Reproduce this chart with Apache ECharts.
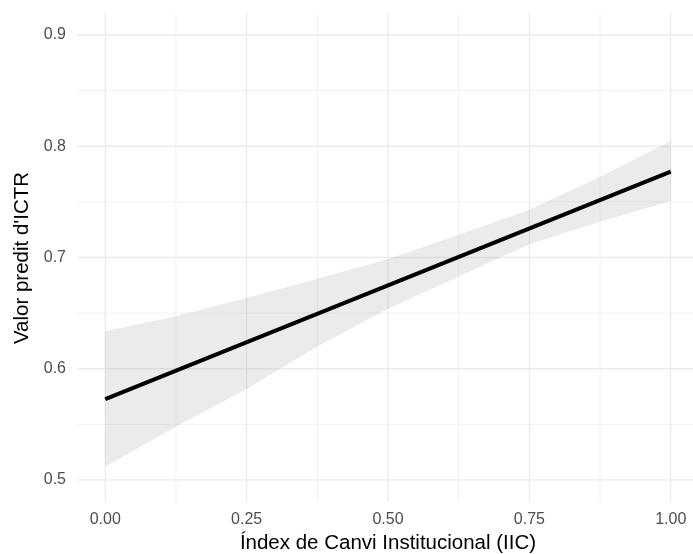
<!DOCTYPE html>
<html>
<head>
<meta charset="utf-8">
<script src="https://cdn.jsdelivr.net/npm/echarts@6/dist/echarts.min.js"></script>
<style>
  html, body { margin: 0; padding: 0; background: #ffffff; }
  #chart { width: 693px; height: 554px; }
</style>
</head>
<body>
<div id="chart"></div>
<script>
// Fitted line (straight) endpoints
var lineX = [0, 1];
var lineY = [0.5727, 0.7772];

// Confidence band read at these x positions
var bandX = [0, 0.125, 0.25, 0.375, 0.5, 0.625, 0.75, 0.875, 1];
var bandUpper = [0.6336, 0.6471, 0.6637, 0.6810, 0.6985, 0.7205, 0.7430, 0.7727, 0.8048];
var bandLower = [0.5120, 0.5480, 0.5817, 0.6200, 0.6540, 0.6830, 0.7120, 0.7322, 0.7507];

// Axis ticks
var xTicks = [0, 0.25, 0.5, 0.75, 1];
var yTicks = [0.5, 0.6, 0.7, 0.8, 0.9];
var xMinor = [0.125, 0.375, 0.625, 0.875];
var yMinor = [0.55, 0.65, 0.75, 0.85];

var xTitle = 'Índex de Canvi Institucional (IIC)';
var yTitle = "Valor predit d'ICTR";

var FONT = '"Liberation Sans", Arial, Helvetica, sans-serif';

var chart = echarts.init(document.getElementById('chart'), null, { renderer: 'canvas' });

var bandData = bandX.map(function (x, i) { return [x, bandLower[i], bandUpper[i]]; });
var lineData = lineX.map(function (x, i) { return [x, lineY[i]]; });

// grid line records: [value, axis(0=x,1=y), major(1)/minor(0)]
var gridData = []
  .concat(xMinor.map(function (v) { return [v, 0, 0]; }))
  .concat(yMinor.map(function (v) { return [v, 1, 0]; }))
  .concat(xTicks.map(function (v) { return [v, 0, 1]; }))
  .concat(yTicks.map(function (v) { return [v, 1, 1]; }));

var option = {
  animation: false,
  backgroundColor: '#ffffff',
  grid: { left: 77, top: 14, width: 622, height: 488, containLabel: false, outerBoundsMode: 'none' },
  xAxis: {
    type: 'value',
    min: -0.05,
    max: 1.05,
    axisLine: { show: false },
    axisTick: { show: false, customValues: xTicks },
    splitLine: { show: false },
    axisLabel: {
      customValues: xTicks,
      formatter: function (v) { return v.toFixed(2); },
      color: '#4d4d4d',
      fontSize: 16,
      fontFamily: FONT,
      margin: 10
    },
    name: xTitle,
    nameLocation: 'middle',
    nameGap: 31,
    nameTextStyle: { color: '#000000', fontSize: 20.5, fontFamily: FONT }
  },
  yAxis: {
    type: 'value',
    min: 0.4802,
    max: 0.9189,
    axisLine: { show: false },
    axisTick: { show: false, customValues: yTicks },
    splitLine: { show: false },
    axisLabel: {
      customValues: yTicks,
      formatter: function (v) { return v.toFixed(1); },
      color: '#4d4d4d',
      fontSize: 16,
      fontFamily: FONT,
      margin: 11
    },
    name: yTitle,
    nameLocation: 'middle',
    nameRotate: 90,
    nameGap: 41,
    nameTextStyle: { color: '#000000', fontSize: 20.5, fontFamily: FONT }
  },
  series: [
    {
      type: 'custom',
      z: 1,
      silent: true,
      clip: false,
      data: gridData,
      encode: { x: -1, y: -1 },
      renderItem: function (params, api) {
        var v = api.value(0), ax = api.value(1), major = api.value(2);
        var cs = params.coordSys;
        var p1, p2;
        if (ax === 0) {
          var px = api.coord([v, 0.7])[0];
          p1 = [px, cs.y]; p2 = [px, cs.y + cs.height];
        } else {
          var py = api.coord([0.5, v])[1];
          p1 = [cs.x, py]; p2 = [cs.x + cs.width, py];
        }
        return {
          type: 'line',
          shape: { x1: p1[0], y1: p1[1], x2: p2[0], y2: p2[1] },
          style: { stroke: major ? '#ebebeb' : '#f1f1f1', lineWidth: major ? 1.3 : 1 }
        };
      }
    },
    {
      type: 'custom',
      z: 2,
      silent: true,
      clip: true,
      data: bandData,
      renderItem: function (params, api) {
        if (params.dataIndex !== 0) return null;
        var pts = [];
        for (var i = 0; i < bandData.length; i++) {
          pts.push(api.coord([bandData[i][0], bandData[i][2]]));
        }
        for (var j = bandData.length - 1; j >= 0; j--) {
          pts.push(api.coord([bandData[j][0], bandData[j][1]]));
        }
        return {
          type: 'polygon',
          shape: { points: pts },
          style: { fill: 'rgba(153,153,153,0.2)', stroke: null }
        };
      }
    },
    {
      type: 'line',
      z: 3,
      silent: true,
      data: lineData,
      showSymbol: false,
      symbol: 'none',
      lineStyle: { color: '#000000', width: 4, cap: 'butt' }
    }
  ]
};

chart.setOption(option);
</script>
</body>
</html>
